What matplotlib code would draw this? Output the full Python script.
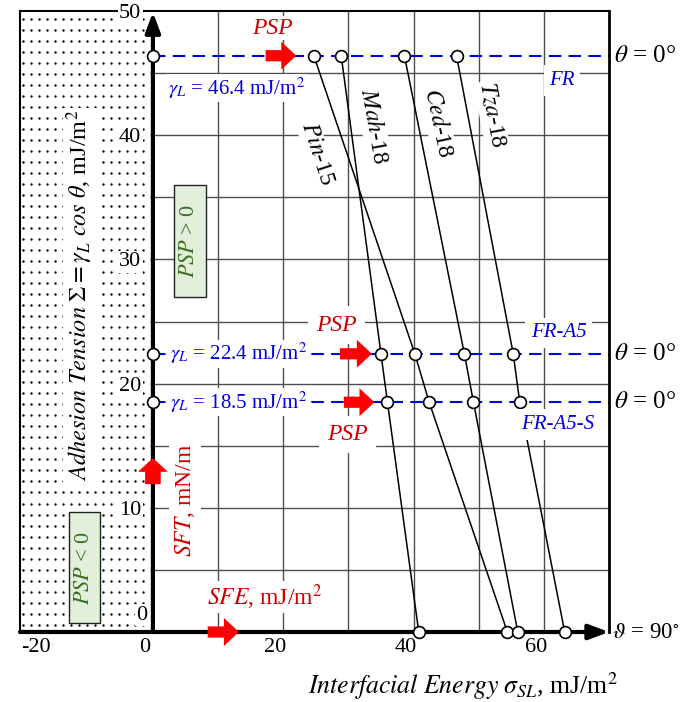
import numpy as np
import matplotlib.pyplot as plt
from matplotlib.patches import Rectangle, FancyArrow
from matplotlib.transforms import ScaledTranslation

plt.rcParams['font.family'] = ['Liberation Serif', 'DejaVu Serif']
plt.rcParams['mathtext.fontset'] = 'stix'

# adhesion tension levels: the three liquids (theta = 0) and theta = 90
tension = [46.4, 22.4, 18.5, 0.0]
liquids = ['FR', 'FR-A5', 'FR-A5-S']
liquid_gamma = [46.4, 22.4, 18.5]

# interfacial energy of each surface at those levels
pin15 = [24.7, 40.2, 42.4, 54.4]
mah18 = [28.9, 35.0, 36.0, 40.8]
ced18 = [38.6, 47.8, 49.2, 56.0]
tza18 = [46.6, 55.3, 56.3, 63.2]
surfaces = ['Pin', 'Mah', 'Ced', 'Tza']
surface_nums = ['15', '18', '18', '18']

x_ticks = [-20, 0, 20, 40, 60]
y_ticks = [0, 10, 20, 30, 40, 50]

rot = 'red'
rot_txt = '#cc0000'
blau = '#0000dd'
white = dict(facecolor='white', edgecolor='none', pad=1)

fig = plt.figure(figsize=(6.83, 7.02), dpi=100)
ax = fig.add_axes([20/683, 70/702, 589/683, 621/702])
ax.set_xlim(-20.4, 70)
ax.set_ylim(0, 50)

# dotted region PSP < 0
px, py = np.meshgrid(np.arange(-20.0, -0.5, 1.23), np.arange(0.6, 49.9, 0.886))
ax.scatter(px.ravel(), py.ravel(), s=3, color='black', lw=0, zorder=0.5)

# grid
for xv in range(10, 70, 10):
    ax.vlines(xv, 0, 50, color='0.3', lw=1, zorder=1)
for yv in range(5, 50, 5):
    ax.hlines(yv, -0.5, 70, color='0.3', lw=1, zorder=1)

# spines
ax.spines['bottom'].set_visible(False)
ax.spines['left'].set_linewidth(1.5)
ax.spines['top'].set_linewidth(1.5)
ax.spines['right'].set_linewidth(2)

# axes with arrows
ax.annotate('', xy=(70, 0), xytext=(-20.4, 0), annotation_clip=False, zorder=4,
            arrowprops=dict(arrowstyle='-|>,head_length=0.8,head_width=0.3', lw=3,
                            color='k', shrinkA=0, shrinkB=0, mutation_scale=15))
ax.annotate('', xy=(0, 49.9), xytext=(0, 0), annotation_clip=False, zorder=4,
            arrowprops=dict(arrowstyle='-|>,head_length=0.8,head_width=0.3', lw=3,
                            color='k', shrinkA=0, shrinkB=0, mutation_scale=15))

# ticks
ax.set_yticks([])
ax.set_xticks(x_ticks, [str(v) for v in x_ticks])
ax.tick_params(axis='x', length=0, pad=4, labelsize=16)
for i, lbl in enumerate(ax.get_xticklabels()):
    dx = 13 if i == 0 else -8
    lbl.set_transform(lbl.get_transform() + ScaledTranslation(dx/100, 0, fig.dpi_scale_trans))
for v in y_ticks:
    if v == 0:
        ax.text(-0.9, 0.6, str(v), fontsize=16, ha='right', va='bottom', bbox=white, zorder=6)
    else:
        ax.text(-1.8, v - 0.2, str(v), fontsize=16, ha='right', va='center', bbox=white,
                zorder=6, clip_on=False)

# liquids: dashed lines
ax.hlines(liquid_gamma, 0, 70, colors=blau, lw=1.5, linestyles=(0, (6, 3.5)), zorder=2)
ax.plot(np.zeros(len(liquid_gamma)), liquid_gamma, 'o', mfc='white', mec='k', ms=8.5,
        mew=1.2, zorder=5, clip_on=False)

# surfaces
for vals in [pin15, mah18, ced18, tza18]:
    ax.plot(vals, tension, '-', color='k', lw=1.1, zorder=3)
    ax.plot(vals, tension, 'o', mfc='white', mec='k', ms=8.5, mew=1.2, zorder=5, clip_on=False)

# surface labels
lab_pos = [(25.2, 38.5, -72), (33.9, 40.7, -80), (43.8, 41.0, -78), (52.0, 41.6, -79)]
for name, num, (lx, ly, r) in zip(surfaces, surface_nums, lab_pos):
    ax.text(lx, ly, '$' + name + '$-' + num, rotation=r, fontsize=17, ha='center',
            va='center', rotation_mode='anchor', bbox=white, zorder=6)

# liquid labels
ax.text(2.3, 43.8, r'$\gamma_L$ = %.1f mJ/m$^2$' % liquid_gamma[0], color=blau,
        fontsize=15, ha='left', va='center', bbox=white, zorder=6)
for g in liquid_gamma[1:]:
    ax.text(2.6, g, r'$\gamma_L$ = %.1f mJ/m$^2$' % g, color=blau, fontsize=15,
            ha='left', va='center', bbox=white, zorder=6)
for name, (lx, ly) in zip(liquids, [(62.8, 44.4), (62.3, 24.1), (62.2, 16.7)]):
    ax.text(lx, ly, name, color=blau, fontsize=15, style='italic', ha='center',
            va='center', bbox=dict(facecolor='white', edgecolor='none', pad=4), zorder=6)
for g in liquid_gamma:
    ax.text(70.8, g, r'$\theta$ = 0°', fontsize=18, ha='left', va='center', clip_on=False)
ax.text(70.4, 0, r'$\vartheta$ = 90$^{\circ}$', fontsize=16.5, ha='left', va='center',
        clip_on=False)

# red arrows and labels
pfeil = dict(color=rot, lw=0, length_includes_head=True, zorder=7, clip_on=False)
ax.add_patch(FancyArrow(17.3, liquid_gamma[0], 4.7, 0, width=0.9, head_width=2.25,
                        head_length=2.3, **pfeil))
ax.add_patch(FancyArrow(28.7, liquid_gamma[1], 4.9, 0, width=0.9, head_width=2.25,
                        head_length=2.3, **pfeil))
ax.add_patch(FancyArrow(29.3, liquid_gamma[2], 4.7, 0, width=0.9, head_width=2.25,
                        head_length=2.3, **pfeil))
ax.add_patch(FancyArrow(8.4, 0, 4.8, 0, width=0.9, head_width=2.25,
                        head_length=2.3, **pfeil))
ax.add_patch(FancyArrow(0, 11.9, 0, 2.1, width=2.4, head_width=4.6,
                        head_length=1.1, **pfeil))

ax.text(18.3, 48.6, 'PSP', color=rot_txt, fontsize=17, style='italic', ha='center',
        va='center', bbox=white, zorder=6)
ax.text(28.2, 24.7, 'PSP', color=rot_txt, fontsize=17, style='italic', ha='center',
        va='center', bbox=dict(facecolor='white', edgecolor='none', pad=6), zorder=6)
ax.text(29.8, 15.9, 'PSP', color=rot_txt, fontsize=17, style='italic', ha='center',
        va='center', bbox=dict(facecolor='white', edgecolor='none', pad=6), zorder=6)
ax.text(4.9, 10.6, r'$SFT$, mN/m', rotation=90, color=rot_txt, fontsize=17,
        ha='center', va='center', bbox=dict(facecolor='white', edgecolor='none', pad=3), zorder=6)
ax.text(17.1, 2.8, r'$SFE$, mJ/m$^2$', color=rot_txt, fontsize=17, ha='center',
        va='center', bbox=white, zorder=6)

# PSP boxes
gruen = '#3b6e22'
ax.add_patch(Rectangle((3.2, 27.0), 4.9, 9.0, facecolor='#e2efda', edgecolor='#222222',
                       lw=1, zorder=6))
ax.text(5.65, 31.5, r'$PSP$ > 0', rotation=90, color=gruen, fontsize=16, ha='center',
        va='center', zorder=7)
ax.add_patch(Rectangle((-12.9, 0.7), 4.8, 9.0, facecolor='#e2efda', edgecolor='#222222',
                       lw=1, zorder=6))
ax.text(-10.5, 5.2, r'$PSP$ < 0', rotation=90, color=gruen, fontsize=16, ha='center',
        va='center', zorder=7)

# axis titles
ax.text(47.6, -4.4, r'$Interfacial\ Energy\ \sigma_{SL}$, mJ/m$^2$', fontsize=18.5,
        ha='center', va='center', clip_on=False)
ax.text(-11.2, 27.1, r'$Adhesion\ Tension\ \Sigma = \gamma_L\ cos\ \theta$, mJ/m$^2$',
        rotation=90, fontsize=17.5, ha='center', va='center', bbox=white, zorder=6)

plt.savefig('out.png', dpi=100)
